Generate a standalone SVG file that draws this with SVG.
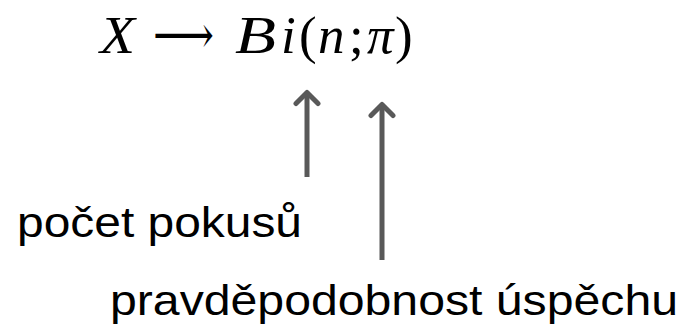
<svg xmlns="http://www.w3.org/2000/svg" width="690" height="328" viewBox="0 0 690 328">
<style>
.math{font-family:"Liberation Serif","DejaVu Serif",serif;font-style:italic;font-size:53px;fill:#000}
.up{font-family:"Liberation Serif","DejaVu Serif",serif;font-size:53px;fill:#000}
.lbl{font-family:"Liberation Sans","DejaVu Sans",sans-serif;font-size:43px;fill:#000}
.conn{stroke:#595959;stroke-width:5;fill:none;marker-end:url(#head)}
</style>
<defs>
<marker id="head" markerUnits="userSpaceOnUse" viewBox="-14 -14 28 28" refX="0" refY="0" markerWidth="28" markerHeight="28" orient="auto">
<polyline points="-11,-11 0,0 -11,11" fill="none" stroke="#595959" stroke-width="5" stroke-linecap="round" stroke-linejoin="round"/>
</marker>
</defs>
<g id="formula">
<text y="53"><tspan class="math" x="100" textLength="35" lengthAdjust="spacingAndGlyphs">X</tspan><tspan class="up" x="153" textLength="61" lengthAdjust="spacingAndGlyphs">⟶</tspan><tspan class="math" x="235" font-size="55" textLength="41" lengthAdjust="spacingAndGlyphs">B</tspan><tspan class="math" x="281">i</tspan><tspan class="up" x="299">(</tspan><tspan class="math" x="318">n</tspan><tspan class="up" x="349">;</tspan><tspan class="math" x="367">π</tspan><tspan class="up" x="395">)</tspan></text>
</g>
<g id="connectors">
<path class="conn" d="M307,177 V92.5"/>
<path class="conn" d="M382,260 V104.5"/>
</g>
<g id="pocet">
<text class="lbl" x="17" y="237" textLength="285" lengthAdjust="spacingAndGlyphs">počet pokusů</text>
</g>
<g id="pravdepodobnost">
<text class="lbl" x="110" y="315" textLength="568" lengthAdjust="spacingAndGlyphs">pravděpodobnost úspěchu</text>
</g>
</svg>
